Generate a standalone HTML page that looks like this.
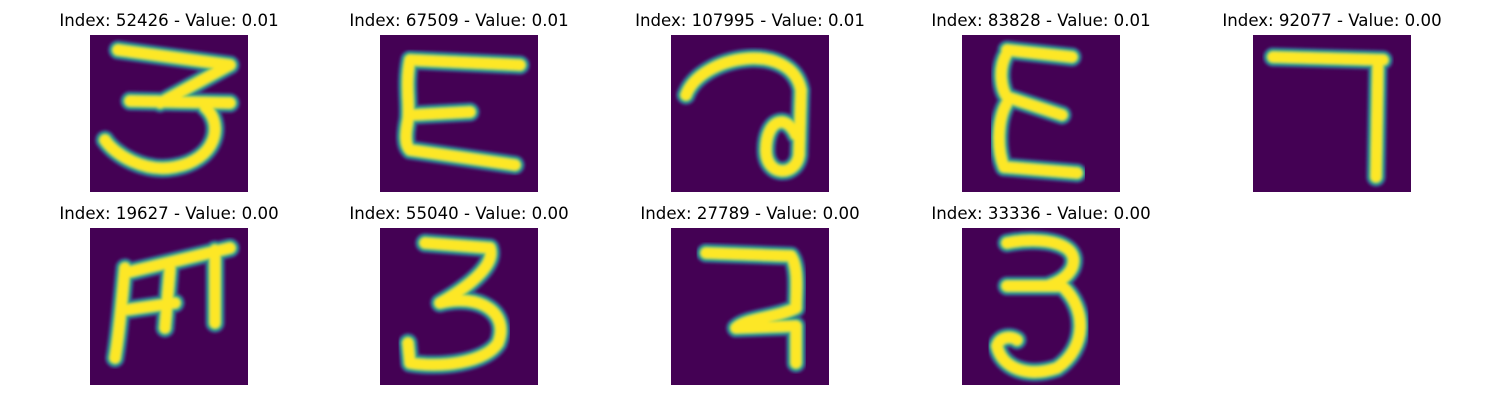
<!DOCTYPE html>
<html><head><meta charset="utf-8">
<style>
html,body{margin:0;padding:0;background:#fff;}
body{width:1500px;height:400px;overflow:hidden;position:relative;font-family:"DejaVu Sans","Liberation Sans",sans-serif;}
svg{position:absolute;left:0;top:0;}
</style></head>
<body>
<svg id="fig" width="1500" height="400" viewBox="0 0 1500 400">
<defs>
<filter id="soft" x="-10%" y="-10%" width="120%" height="120%"><feGaussianBlur stdDeviation="1.3"/></filter>
<clipPath id="clip"><rect x="0" y="0" width="158" height="157"/></clipPath>
</defs>
</svg>
<script>
const indices = [52426, 67509, 107995, 83828, 92077, 19627, 55040, 27789, 33336];
const values = [0.01, 0.01, 0.01, 0.01, 0.00, 0.00, 0.00, 0.00, 0.00];
const strokes = [
 "M28,15 L140,30 M140,30 L70,68 M40,66 L140,68 M115,72 C135,90 125,125 85,132 C55,138 25,120 15,105",
 "M30,25 L140,30 M30,25 C25,50 30,70 28,85 C25,100 25,110 30,115 M32,80 L90,77 M30,115 L135,130",
 "M15,60 C30,20 120,5 130,55 L128,120 C125,142 95,142 95,115 C95,85 115,78 125,100",
 "M45,15 L110,22 M45,18 C35,35 40,55 45,62 L100,80 M45,68 C35,85 35,115 42,132 L115,138",
 "M20,22 L130,25 M125,25 L123,142",
 "M25,130 C30,100 32,70 35,40 M35,45 L140,20 M80,40 L75,100 M125,22 L125,95 M35,82 L85,75",
 "M45,15 L110,20 C115,35 95,55 60,75 M60,75 C100,65 130,85 118,115 C105,135 60,140 30,135 L28,115",
 "M35,25 L120,28 C128,40 125,65 125,80 C105,90 75,90 65,100 L125,98 L125,135",
 "M45,15 C80,8 120,15 110,40 C105,50 95,55 85,58 M45,58 L100,58 C125,80 125,120 95,140 C65,150 40,140 35,118 C38,108 50,108 55,112"
];
const colX = [90, 380, 671, 962, 1253];
const rowY = [35, 228];
const NS = "http://www.w3.org/2000/svg";
const fig = document.getElementById('fig');
indices.forEach((idx, i) => {
  const x = colX[i % 5], y = rowY[Math.floor(i / 5)];
  const g = document.createElementNS(NS, 'g');
  
  
  g.setAttribute('transform', `translate(${x},${y})`);
  const bg = document.createElementNS(NS, 'rect');
  
  
  bg.setAttribute('width', 158); bg.setAttribute('height', 157); bg.setAttribute('fill', '#440154');
  g.appendChild(bg);
  const inner = document.createElementNS(NS, 'g');
  inner.setAttribute('clip-path', 'url(#clip)');
  inner.setAttribute('filter', 'url(#soft)');
  [['#3b528b', 20], ['#21918c', 16], ['#5ec962', 13], ['#fde725', 10]].forEach(([c, w]) => {
    const p = document.createElementNS(NS, 'path');
    
    
    p.setAttribute('d', strokes[i]); p.setAttribute('fill', 'none');
    p.setAttribute('stroke', c); p.setAttribute('stroke-width', w);
    p.setAttribute('stroke-linecap', 'round'); p.setAttribute('stroke-linejoin', 'round');
    inner.appendChild(p);
  });
  g.appendChild(inner);
  const t = document.createElementNS(NS, 'text');
  
  
  t.setAttribute('x', 79); t.setAttribute('y', -9);
  t.setAttribute('text-anchor', 'middle'); t.setAttribute('font-size', '16.6');
  t.setAttribute('fill', '#000');
  t.textContent = `Index: ${idx} - Value: ${values[i].toFixed(2)}`;
  g.appendChild(t);
  fig.appendChild(g);
});
</script>
</body></html>
